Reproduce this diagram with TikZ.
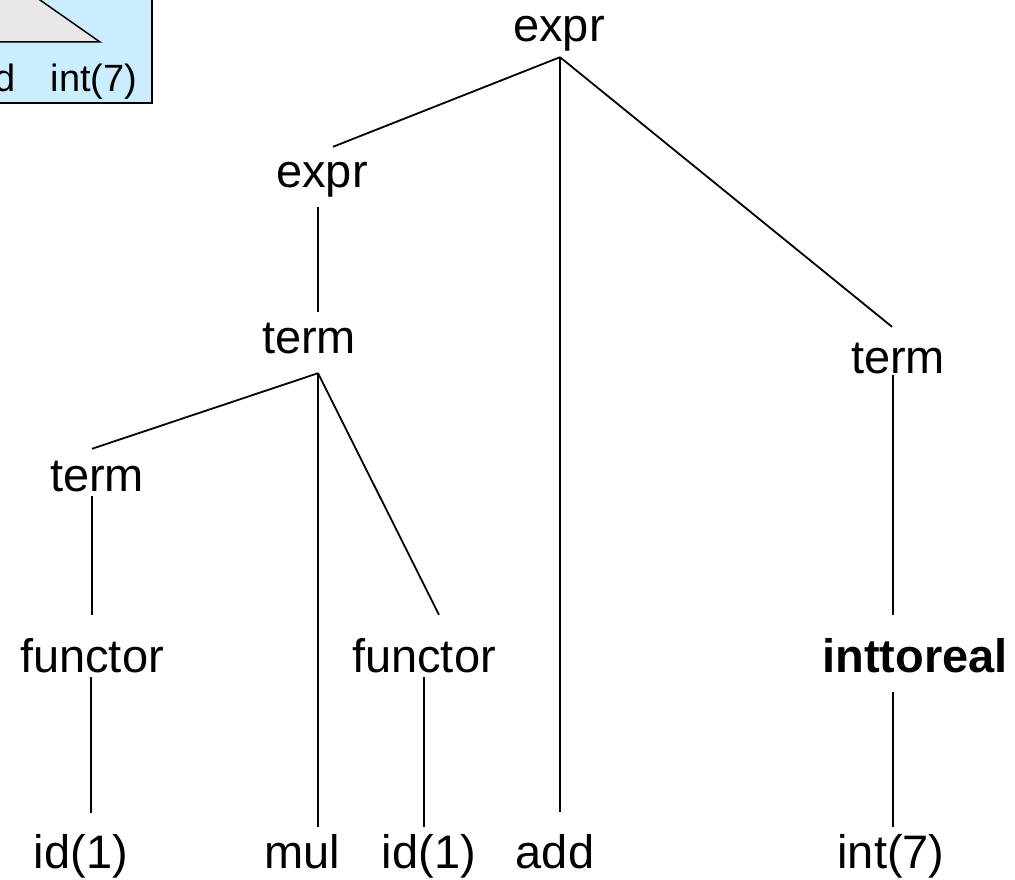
\documentclass[tikz,border=0pt]{standalone}
\usepackage{fontspec}
\setmainfont{Liberation Sans}
\definecolor{boxblue}{HTML}{CCECFF}
\definecolor{trigray}{HTML}{E8E8E8}
\tikzset{lbl/.style={inner sep=0pt,text height=34pt,text depth=10pt,anchor=base,font=\fontsize{47}{56}\selectfont},
  small/.style={inner sep=0pt,font=\fontsize{38}{46}\selectfont},
  edge/.style={line width=1.8pt}}
\begin{document}
\begin{tikzpicture}[x=1pt,y=-1pt]
\useasboundingbox(0,0)rectangle(1015,880);
\clip(0,0)rectangle(1015,880);
\draw[fill=boxblue,line width=1.5pt](-50,-50)rectangle(152,103);
\draw[fill=trigray,line width=1.5pt](100,42)--(10,-21)--(-80,42)--cycle;
\node[small,anchor=base east](bd)at(16,92){d};
\node[small,anchor=base](bi)at(94,92){int(7)};
\node[lbl](e1)at(559,42){expr};
\node[lbl](e2)at(322,187){expr};
\node[lbl](t2)at(309,353){term};
\node[lbl](t3)at(97,491){term};
\node[lbl](t4)at(898,373){term};
\node[lbl](f1)at(92,672){functor};
\node[lbl](f2)at(424,672){functor};
\node[lbl,font=\fontsize{47}{56}\selectfont\bfseries](itr)at(915,672){inttoreal};
\node[lbl](i1)at(81,868){id(1)};
\node[lbl](mul)at(302,868){mul};
\node[lbl](i2)at(429,868){id(1)};
\node[lbl](add)at(555,868){add};
\node[lbl](i7)at(891,868){int(7)};
\draw[edge]([shift={(1,5)}]e1.south)--([shift={(11,-6)}]e2.north);
\draw[edge]([shift={(1,5)}]e1.south)--([shift={(5,-22)}]add.north);
\draw[edge]([shift={(1,5)}]e1.south)--([shift={(-6,-12)}]t4.north);
\draw[edge]([shift={(-4,10)}]e2.south)--([shift={(9,-7)}]t2.north);
\draw[edge]([shift={(9,10)}]t2.south)--([shift={(-5,-8)}]t3.north);
\draw[edge]([shift={(9,10)}]t2.south)--([shift={(16,-7)}]mul.north);
\draw[edge]([shift={(9,10)}]t2.south)--([shift={(15,-23)}]f2.north);
\draw[edge]([shift={(-5,-5)}]t3.south)--([shift={(0,-23)}]f1.north);
\draw[edge]([shift={(-1,-5)}]f1.south)--([shift={(10,-21)}]i1.north);
\draw[edge]([shift={(0,-5)}]f2.south)--([shift={(-5,-7)}]i2.north);
\draw[edge]([shift={(-5,-8)}]t4.south)--([shift={(-22,-23)}]itr.north);
\draw[edge]([shift={(-22,10)}]itr.south)--([shift={(2,-7)}]i7.north);
\end{tikzpicture}
\end{document}
